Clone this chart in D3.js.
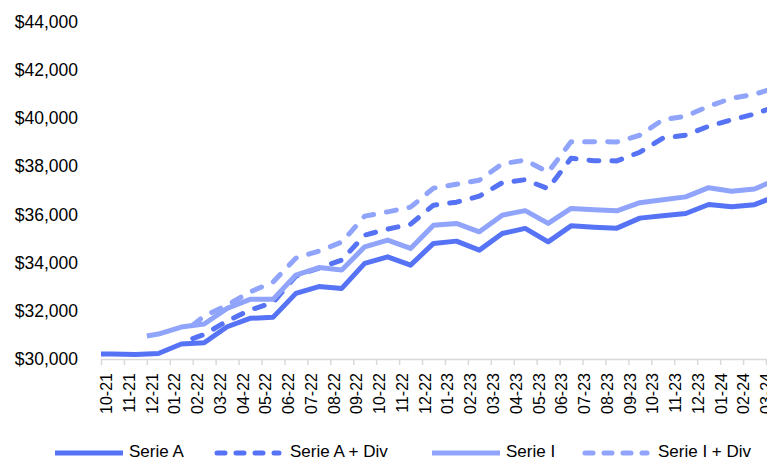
<!DOCTYPE html>
<html><head><meta charset="utf-8">
<script src="https://cdn.jsdelivr.net/npm/d3@7"></script>
<style>body{margin:0;background:#fff}svg{display:block}text{font-family:Arial,"Liberation Sans",sans-serif;fill:#000}</style>
</head><body><svg id="c" width="767" height="461"></svg>
<script>
const months = ["10-21","11-21","12-21","01-22","02-22","03-22","04-22","05-22","06-22","07-22","08-22","09-22","10-22","11-22","12-22","01-23","02-23","03-23","04-23","05-23","06-23","07-23","08-23","09-23","10-23","11-23","12-23","01-24","02-24","03-24"];
const yTicks = [30000,32000,34000,36000,38000,40000,42000,44000];
// monthly values (mid-month)
const serieA = [30210,30190,30230,30622,30676,31339,31687,31728,32723,33005,32930,33967,34240,33896,34796,34891,34518,35210,35418,34862,35525,35471,35430,35845,35948,36039,36412,36313,36404,36777];
const serieADiv = [null,null,null,null,31016,31575,32031,32342,33440,33772,34104,35140,35389,35596,36383,36508,36756,37316,37440,37067,38331,38228,38220,38580,39160,39285,39658,39927,40163,40508];
const serieI = [null,null,31036,31326,31451,32102,32475,32475,33482,33793,33689,34655,34933,34588,35554,35625,35277,35969,36155,35625,36247,36197,36147,36487,36611,36727,37109,36964,37055,37461];
const serieIDiv = [null,null,null,null,31782,32238,32777,33192,34186,34477,34850,35927,36106,36300,37088,37254,37420,38103,38249,37751,39015,39015,39007,39285,39927,40072,40487,40818,40984,41274];
// inception month and starting value
const inceptionMonth = ["10-21","02-22","12-21","02-22"];
const inceptionValue = [30210,30850,30953,31400];
const seriesNames = ["Serie A","Serie A + Div","Serie I","Serie I + Div"];
const seriesValues = [serieA, serieADiv, serieI, serieIDiv];
const colors = ["#5673f5","#5673f5","#8fa4fa","#8fa4fa"];
const dashed = [false,true,false,true];

const svg = d3.select("#c");
const step = 22.93;
const x = d3.scaleLinear().domain([0, months.length]).range([101, 101 + step*months.length]);
const xLab = d3.scaleLinear().domain([0, months.length - 1]).range([106.5, 766.5]);
const y = d3.scaleLinear().domain([30000, 44000]).range([359, 21.6]);

// y labels
const fmt = v => "$" + d3.format(",")(v);
svg.append("g").selectAll("text").data(yTicks).join("text")
  .attr("x", 78).attr("y", d => y(d)).attr("dy", "0.35em")
  .attr("text-anchor", "end").style("font-size", "17.5px").text(fmt);

// x axis
const xAxis = d3.axisBottom(x).tickValues(d3.range(months.length)).tickSize(6).tickFormat("");
const gx = svg.append("g").attr("transform", "translate(0,359)").call(xAxis);
gx.select(".domain").attr("stroke", "#d9d9d9").attr("stroke-width", 1.5).attr("d", `M101,0.5H767`);
gx.selectAll(".tick line").attr("stroke", "#d9d9d9").attr("stroke-width", 1.5);
svg.append("g").selectAll("text").data(months).join("text")
  .attr("transform", (d,i) => `translate(${xLab(i)},373) rotate(-90)`)
  .attr("dy", "0.35em").attr("text-anchor", "end").style("font-size", "16px").text(d => d);

// lines
const line = d3.line().x(d => x(d.x)).y(d => y(d.v)).curve(d3.curveLinear);
seriesValues.forEach((vals, s) => {
  const pts = [{x: months.indexOf(inceptionMonth[s]), v: inceptionValue[s]}]
    .concat(vals.map((v,i) => ({x: i+0.5, v})).filter(d => d.v != null));
  svg.append("path").datum(pts).attr("d", line)
    .attr("fill", "none").attr("stroke", colors[s]).attr("stroke-width", 5)
    .attr("stroke-linejoin", "round").attr("stroke-linecap", dashed[s] ? "round" : "butt")
    .attr("stroke-dasharray", dashed[s] ? "10,13" : null);
});

// legend
const legX = [55, 217, 432, 585];
const legY = 451.5;
const lg = svg.append("g");
seriesNames.forEach((n, s) => {
  lg.append("line").attr("x1", legX[s]).attr("x2", legX[s] + (dashed[s] ? 62 : 68)).attr("y1", legY + 1.5).attr("y2", legY + 1.5)
    .attr("stroke", colors[s]).attr("stroke-width", 5)
    .attr("stroke-linecap", dashed[s] ? "round" : "butt")
    .attr("stroke-dasharray", dashed[s] ? "8,11" : null);
  lg.append("text").attr("x", legX[s] + (dashed[s] ? 73 : 74)).attr("y", legY).attr("dy", "0.35em")
    .style("font-size", "17px").text(n);
});
</script></body></html>
